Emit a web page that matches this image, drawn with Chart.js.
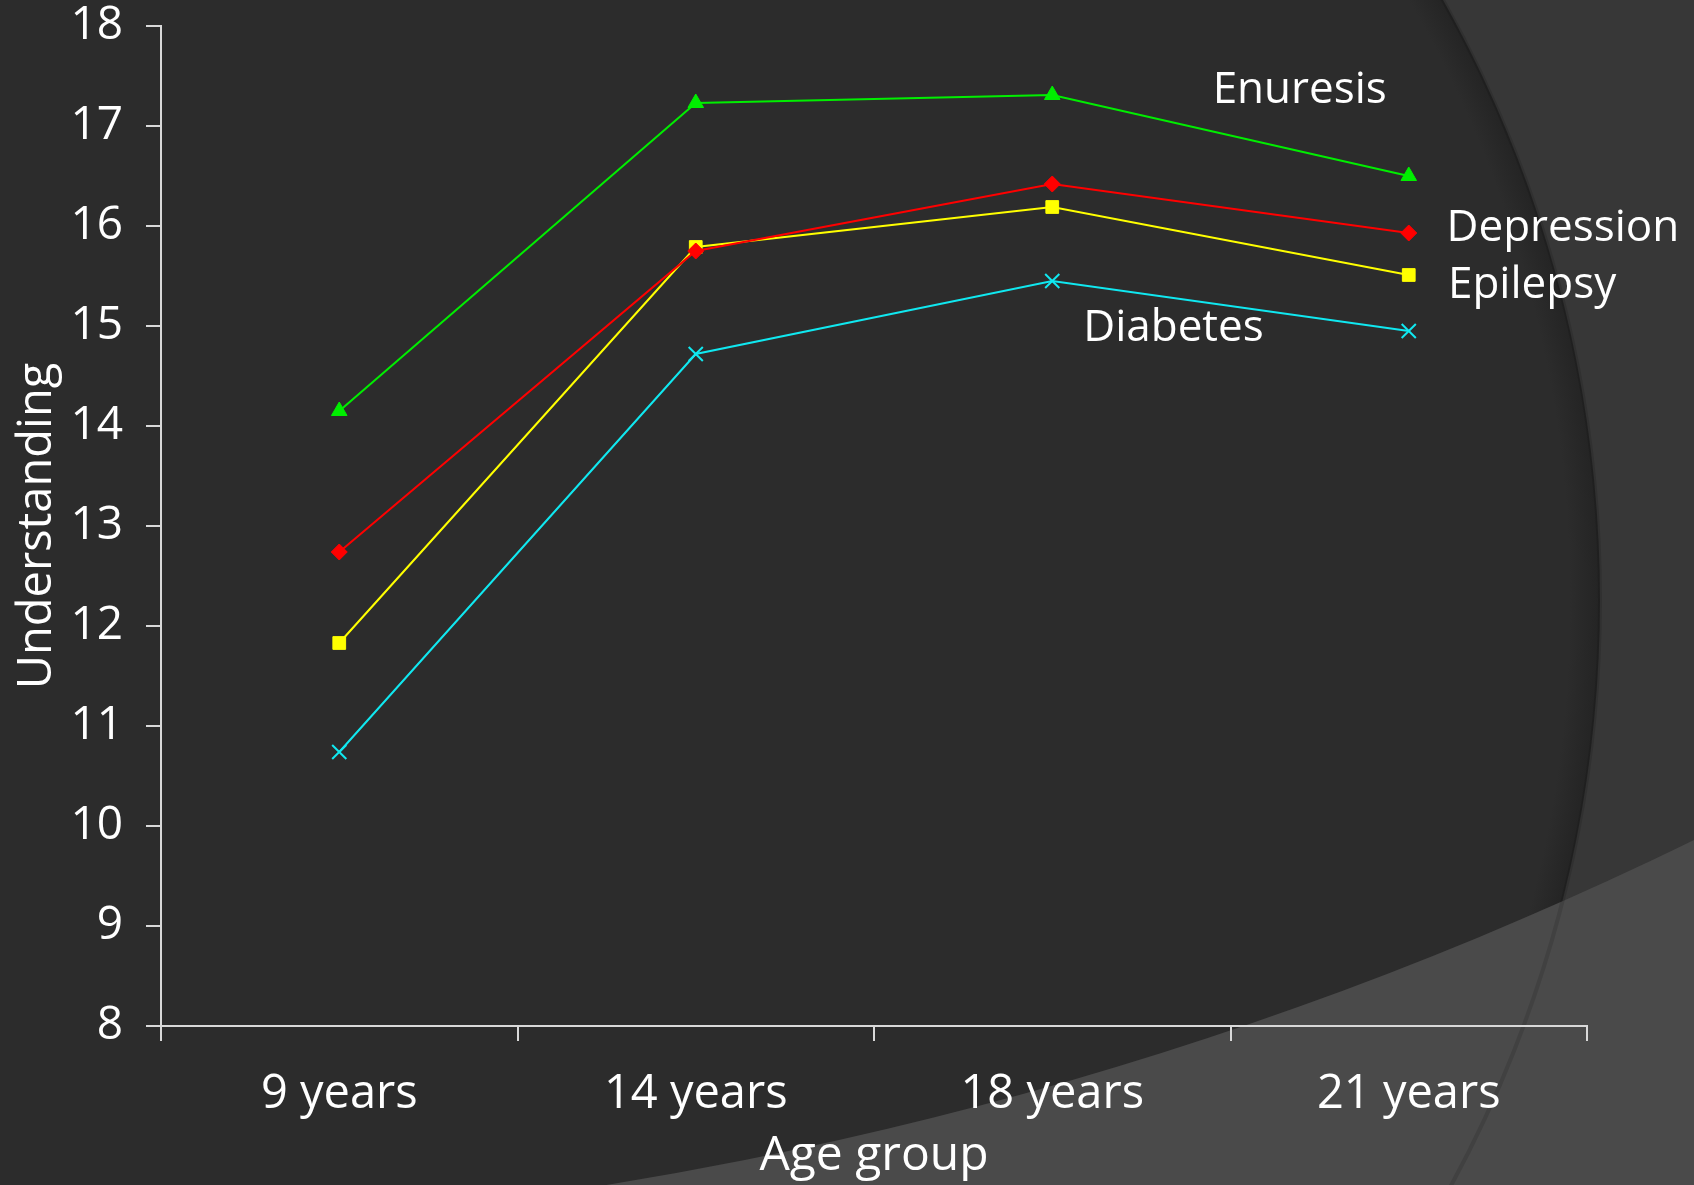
<!DOCTYPE html>
<html>
<head>
<meta charset="utf-8">
<script src="https://cdn.jsdelivr.net/npm/chart.js"></script>
<style>
  html, body { margin: 0; padding: 0; background: #2c2c2c; }
  canvas { display: block; }
</style>
</head>
<body>
<canvas id="comprehension" width="1694" height="1185"></canvas>
<script>
const ages = ["9 years", "14 years", "18 years", "21 years"];
const enuresis = [14.15, 17.23, 17.31, 16.50];
const depression = [12.74, 15.75, 16.42, 15.93];
const epilepsy = [11.83, 15.79, 16.19, 15.51];
const diabetes = [10.74, 14.72, 15.45, 14.95];
const yMin = 8;
const yMax = 18;

// noms des courbes, posés à côté des lignes (x en index de catégorie, y en valeur)
const etiquettes = [
    {texte: "Enuresis", x: 2.45, y: 17.36},
    {texte: "Depression", x: 3.106, y: 15.98},
    {texte: "Epilepsy", x: 3.11, y: 15.41},
    {texte: "Diabetes", x: 2.087, y: 14.98},
];

const police = "'Open Sans', 'DejaVu Sans', sans-serif";
const blanc = "#ffffff";
const axe = "#d9d9d9";

// fond de diapo : grand disque sombre + bande claire en bas à droite
const fond = {
    id: "fond",
    beforeDraw(chart) {
        const ctx = chart.ctx;
        const w = chart.width, h = chart.height;
        ctx.save();
        ctx.fillStyle = "#373737";
        ctx.fillRect(0, 0, w, h);

        const cx = 375, cy = 600, r = 1225;
        const grad = ctx.createRadialGradient(cx, cy, r - 30, cx, cy, r);
        grad.addColorStop(0, "#2c2c2c");
        grad.addColorStop(1, "#242424");
        ctx.beginPath();
        ctx.arc(cx, cy, r, 0, Math.PI * 2);
        ctx.fillStyle = grad;
        ctx.fill();

        ctx.beginPath();
        ctx.rect(0, 0, w, h);
        ctx.arc(-16, -2665, 3900, 0, Math.PI * 2);
        ctx.fillStyle = "#4a4a4a";
        ctx.fill("evenodd");

        ctx.beginPath();
        ctx.arc(cx, cy, r, 0, Math.PI * 2);
        ctx.strokeStyle = "rgba(0,0,0,0.12)";
        ctx.lineWidth = 4;
        ctx.stroke();
        ctx.restore();
    }
};

const noms = {
    id: "noms",
    afterDraw(chart) {
        const ctx = chart.ctx;
        const x = chart.scales.x, y = chart.scales.y;
        ctx.save();
        ctx.font = "44px " + police;
        ctx.fillStyle = blanc;
        ctx.textAlign = "left";
        ctx.textBaseline = "middle";
        etiquettes.forEach(e => {
            ctx.fillText(e.texte, x.getPixelForValue(e.x), y.getPixelForValue(e.y));
        });
        ctx.restore();
    }
};

const serie = (label, data, couleur, style, rayon) => ({
    label: label,
    data: data,
    borderColor: couleur,
    backgroundColor: couleur,
    borderWidth: 2,
    pointStyle: style,
    pointRadius: rayon,
    pointHoverRadius: rayon,
    pointBorderWidth: style === "crossRot" ? 2 : 1,
    pointBorderColor: couleur,
    pointBackgroundColor: couleur,
    tension: 0,
    clip: false
});

new Chart(document.getElementById("comprehension"), {
    type: "line",
    data: {
        labels: ages,
        datasets: [
            serie("Enuresis", enuresis, "#00ee00", "triangle", 9),
            serie("Depression", depression, "#ff0000", "rectRot", 8),
            serie("Epilepsy", epilepsy, "#ffff00", "rect", 9),
            serie("Diabetes", diabetes, "#10e8f0", "crossRot", 10)
        ]
    },
    options: {
        responsive: false,
        animation: false,
        devicePixelRatio: 1,
        layout: {padding: {top: 26, right: 107, left: 0, bottom: 0}},
        plugins: {
            legend: {display: false},
            tooltip: {enabled: false}
        },
        scales: {
            x: {
                offset: true,
                grid: {offset: true, drawOnChartArea: false, color: axe, tickLength: 15, lineWidth: 2},
                border: {color: axe, width: 2},
                ticks: {color: blanc, font: {family: police, size: 47}, padding: 25},
                title: {display: true, text: "Age group", color: blanc, font: {family: police, size: 48}, padding: 0},
                afterFit: (scale) => { scale.height = 159; }
            },
            y: {
                min: yMin,
                max: yMax,
                grid: {drawOnChartArea: false, color: axe, tickLength: 15, lineWidth: 2},
                border: {color: axe, width: 2},
                ticks: {stepSize: 1, color: blanc, font: {family: police, size: 46}, padding: 23},
                title: {display: true, text: "Understanding", color: blanc, font: {family: police, size: 47}, padding: {top: 9, bottom: 0}},
                afterFit: (scale) => {
                    scale.width = 161;
                    scale.paddingTop = 0;
                    scale.paddingBottom = 0;
                }
            }
        }
    },
    plugins: [fond, noms]
});
</script>
</body>
</html>
